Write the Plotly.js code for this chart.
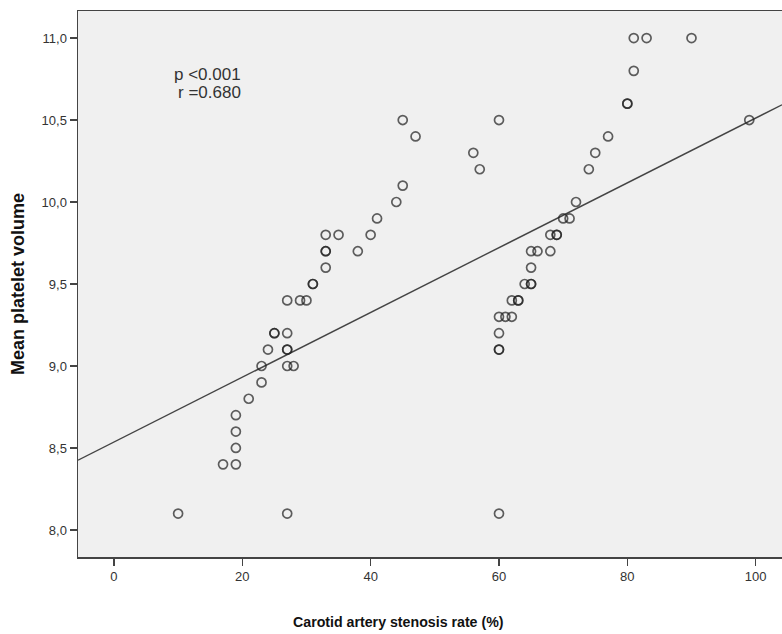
<!DOCTYPE html>
<html>
<head>
<meta charset="utf-8">
<script src="https://cdn.plot.ly/plotly-3.0.1.min.js"></script>
<style>
  html, body { margin: 0; padding: 0; background: #ffffff; }
  #chart { width: 782px; height: 634px; }
</style>
</head>
<body>
<div id="chart"></div>
<script>
// Carotid artery stenosis rate (%)
const stenosis = [
  10, 27, 60, 17, 19, 19, 19, 19, 21, 23, 23, 27, 28, 24, 27, 27, 25, 25, 27,
  27, 29, 30, 31, 31, 33, 33, 33, 33, 35, 38, 40, 41, 44, 45, 45, 47, 56, 57, 60,
  60, 60, 60, 60, 61, 62, 62, 63, 63, 64, 65, 65, 65, 65, 66, 68, 68, 69, 69,
  70, 71, 72, 74, 75, 77, 80, 80, 81, 81, 83, 90, 99
];
// Mean platelet volume
const mpv = [
  8.1, 8.1, 8.1, 8.4, 8.4, 8.5, 8.6, 8.7, 8.8, 8.9, 9.0, 9.0, 9.0, 9.1, 9.1, 9.1, 9.2, 9.2, 9.2,
  9.4, 9.4, 9.4, 9.5, 9.5, 9.6, 9.7, 9.7, 9.8, 9.8, 9.7, 9.8, 9.9, 10.0, 10.1, 10.5, 10.4, 10.3, 10.2, 10.5,
  9.1, 9.1, 9.2, 9.3, 9.3, 9.3, 9.4, 9.4, 9.4, 9.5, 9.5, 9.5, 9.6, 9.7, 9.7, 9.7, 9.8, 9.8, 9.8,
  9.9, 9.9, 10.0, 10.2, 10.3, 10.4, 10.6, 10.6, 10.8, 11.0, 11.0, 11.0, 10.5
];
// Fit line
const fitIntercept = 8.536;
const fitSlope = 0.01976;
const xRange = [-5.6, 104.1];
const yRange = [7.835, 11.165];
const xTicks = [0, 20, 40, 60, 80, 100];
const yTicks = [8.0, 8.5, 9.0, 9.5, 10.0, 10.5, 11.0];
const statLines = ['p <0.001', 'r =0.680'];
const xTitle = 'Carotid artery stenosis rate (%)';
const yTitle = 'Mean platelet volume';

const fitX = xRange.slice();
const fitY = fitX.map(v => fitIntercept + fitSlope * v);

const traces = [
  {
    x: fitX, y: fitY, type: 'scatter', mode: 'lines',
    line: { color: '#444', width: 1.4 },
    hoverinfo: 'skip', showlegend: false
  },
  {
    x: stenosis, y: mpv, type: 'scatter', mode: 'markers',
    marker: {
      symbol: 'circle-open', size: 9,
      color: 'rgba(35,35,35,0.72)',
      line: { width: 1.7 }
    },
    showlegend: false
  }
];

const tickFont = { family: 'Liberation Sans, Arial, sans-serif', size: 13, color: '#333' };

const layout = {
  width: 782, height: 634,
  margin: { l: 78, r: 0, t: 11, b: 77, pad: 0 },
  paper_bgcolor: '#ffffff',
  plot_bgcolor: '#f0f0f0',
  separators: ', ',
  showlegend: false,
  xaxis: {
    range: xRange, tickvals: xTicks, ticktext: xTicks.map(String),
    showgrid: false, zeroline: false,
    showline: true, linecolor: '#444', linewidth: 1.5, mirror: true,
    ticks: 'outside', ticklen: 7, tickwidth: 1.5, tickcolor: '#444',
    tickfont: tickFont
  },
  yaxis: {
    range: yRange, tickvals: yTicks, tickformat: '.1f',
    showgrid: false, zeroline: false,
    showline: true, linecolor: '#444', linewidth: 1.5,
    ticks: 'outside', ticklen: 7, tickwidth: 1.5, tickcolor: '#444',
    tickfont: tickFont,
    title: { text: '<b>' + yTitle + '</b>',
      font: { family: 'Liberation Sans, Arial, sans-serif', size: 18, color: '#111' }, standoff: 12 }
  },
  annotations: statLines.map((t, i) => ({
    xref: 'paper', yref: 'paper',
    x: (243 - 78) / 704, y: 1 - ((74 + i * 18) - 11) / 546,
    xanchor: 'right', yanchor: 'middle',
    text: t, showarrow: false,
    font: { family: 'Liberation Sans, Arial, sans-serif', size: 17, color: '#333' }
  })).concat([{
    xref: 'paper', yref: 'paper',
    x: (398 - 78) / 704, y: 1 - (622 - 11) / 546,
    xanchor: 'center', yanchor: 'middle',
    text: '<b>' + xTitle + '</b>', showarrow: false,
    font: { family: 'Liberation Sans, Arial, sans-serif', size: 14.2, color: '#111' }
  }])
};

Plotly.newPlot('chart', traces, layout, { displayModeBar: false, staticPlot: true });
</script>
</body>
</html>
